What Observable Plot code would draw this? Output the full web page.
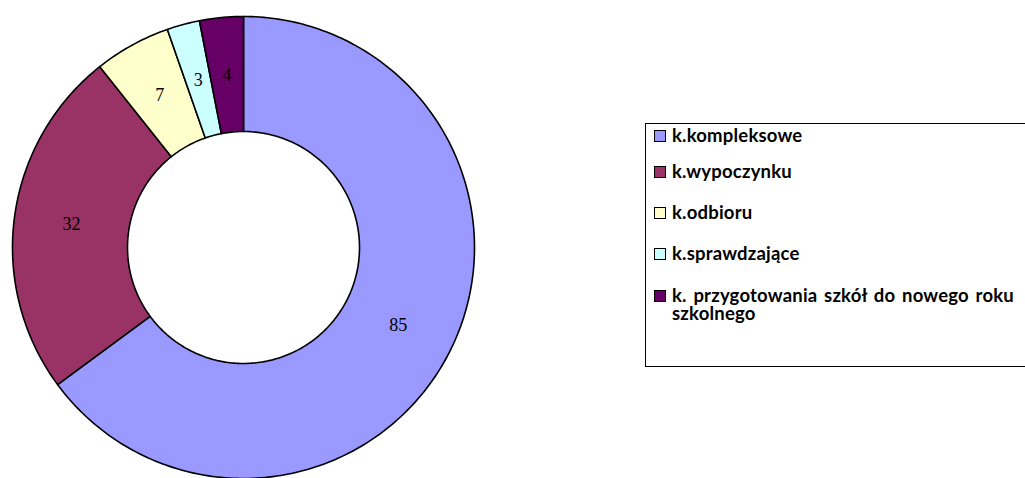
<!DOCTYPE html>
<html>
<head>
<meta charset="utf-8">
<script src="https://cdn.jsdelivr.net/npm/d3@7"></script>
<script src="https://cdn.jsdelivr.net/npm/@observablehq/plot@0.6"></script>
<style>
  html, body { margin: 0; padding: 0; background: #fff; }
  #wrap { position: relative; width: 1025px; height: 478px; overflow: hidden; }
  #legend { position: absolute; left: 645px; top: 123px; width: 420px; height: 244px;
    border: 1.5px solid #000; box-sizing: border-box; font-family: Lato, "Open Sans", sans-serif;
    font-weight: bold; font-size: 18.5px; color: #000; }
  .item { position: absolute; left: 8px; display: flex; align-items: flex-start; }
  .sw { width: 10px; height: 10px; border: 1px solid #000; margin-top: 4px; margin-right: 6px; flex: none; }
  .lab { width: 345px; line-height: 18px; letter-spacing: 0.2px; word-spacing: 2px; }
</style>
</head>
<body>
<div id="wrap"></div>
<script>
const categories = ["k.kompleksowe", "k.wypoczynku", "k.odbioru", "k.sprawdzające", "k. przygotowania szkół do nowego roku szkolnego"];
const values = [85, 32, 7, 3, 4];
const colors = ["#9999FF", "#993366", "#FFFFCC", "#CCFFFF", "#660066"];

const R = 231, r0 = 116, cx = 243, cy = 247;
const total = d3.sum(values);
let cum = 0;
const arcs = values.map((v, i) => {
  const a0 = cum / total * 2 * Math.PI;
  cum += v;
  const a1 = cum / total * 2 * Math.PI;
  return {name: categories[i], value: v, a0, a1};
});
const pts = [];
for (const a of arcs) {
  const n = Math.max(2, Math.ceil((a.a1 - a.a0) / (Math.PI / 180)));
  for (let k = 0; k <= n; k++) {
    const t = a.a0 + (a.a1 - a.a0) * k / n;
    pts.push({name: a.name, x: R * Math.sin(t), y: R * Math.cos(t)});
  }
  for (let k = n; k >= 0; k--) {
    const t = a.a0 + (a.a1 - a.a0) * k / n;
    pts.push({name: a.name, x: r0 * Math.sin(t), y: r0 * Math.cos(t)});
  }
}
const labels = arcs.map(a => {
  const m = (a.a0 + a.a1) / 2, rm = (R + r0) / 2;
  return {name: a.name, value: a.value, x: rm * Math.sin(m), y: rm * Math.cos(m)};
});

const chart = Plot.plot({
  width: 1025, height: 478,
  margin: 0,
  x: {type: "linear", domain: [-R, R], range: [cx - R, cx + R], axis: null},
  y: {type: "linear", domain: [-R, R], range: [cy + R, cy - R], axis: null},
  color: {domain: categories, range: colors},
  marks: [
    Plot.line(pts, {x: "x", y: "y", z: "name", fill: "name", stroke: "#000", strokeWidth: 1.6, curve: "linear-closed"}),
    Plot.text(labels, {x: "x", y: "y", text: d => String(d.value), fill: "#000",
      fontSize: 18, fontFamily: "Liberation Serif, Times New Roman, serif"})
  ]
});
const wrap = document.getElementById("wrap");
wrap.appendChild(chart);

const legend = document.createElement("div");
legend.id = "legend";
const tops = [2, 38, 79, 120, 162];
categories.forEach((c, i) => {
  const it = document.createElement("div");
  it.className = "item";
  it.style.top = tops[i] + "px";
  it.innerHTML = `<div class="sw" style="background:${colors[i]}"></div><div class="lab">${c}</div>`;
  legend.appendChild(it);
});
wrap.appendChild(legend);
</script>
</body>
</html>
